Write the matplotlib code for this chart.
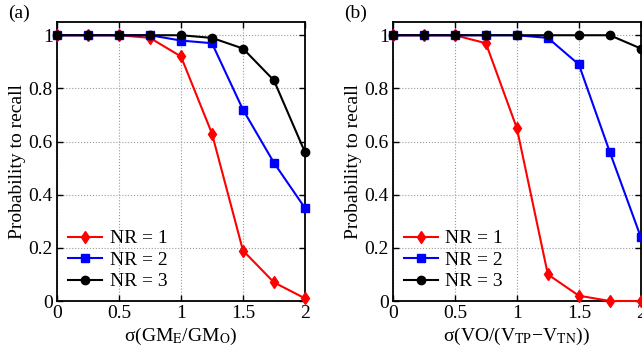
import numpy as np
import matplotlib.pyplot as plt

plt.rcParams['font.family'] = ['Liberation Serif', 'DejaVu Serif']
plt.rcParams['mathtext.fontset'] = 'stix'
plt.rcParams['font.size'] = 14

sigma = [0, 0.25, 0.5, 0.75, 1.0, 1.25, 1.5, 1.75, 2.0]

# panel (a): sigma(GM_E/GM_O)
a_nr1 = [1, 1, 1, 0.99, 0.92, 0.63, 0.19, 0.07, 0.01]
a_nr2 = [1, 1, 1, 1, 0.98, 0.97, 0.72, 0.52, 0.35]
a_nr3 = [1, 1, 1, 1, 1, 0.99, 0.95, 0.83, 0.56]

# panel (b): sigma(VO/(VTP-VTN))
b_nr1 = [1, 1, 1, 0.97, 0.65, 0.10, 0.02, 0, 0]
b_nr2 = [1, 1, 1, 1, 1, 0.99, 0.89, 0.56, 0.24]
b_nr3 = [1, 1, 1, 1, 1, 1, 1, 1, 0.95]

xticks = [0, 0.5, 1, 1.5, 2]
xticklabels = ['0', '0.5', '1', '1.5', '2']
yticks = [0, 0.2, 0.4, 0.6, 0.8, 1]
yticklabels = ['0', '0.2', '0.4', '0.6', '0.8', '1']

fig = plt.figure(figsize=(6.42, 3.54), dpi=100)
ax1 = fig.add_axes([0.0888, 0.1497, 0.3862, 0.7883])
ax2 = fig.add_axes([0.612, 0.1497, 0.3862, 0.7883])


def draw(ax, r, b, k, xlabel, tag):
    ax.plot(sigma, r, '-d', color='red', lw=1.5, ms=6, clip_on=False, label='NR = 1', zorder=3)
    ax.plot(sigma, b, '-s', color='blue', lw=1.5, ms=6, clip_on=False, label='NR = 2', zorder=4)
    ax.plot(sigma, k, '-o', color='black', lw=1.5, ms=6, clip_on=False, label='NR = 3', zorder=5)
    ax.set_xlim(0, 2)
    ax.set_ylim(0, 1.05)
    ax.set_xticks(xticks)
    ax.set_xticklabels(xticklabels)
    ax.set_yticks(yticks)
    ax.set_yticklabels(yticklabels)
    ax.grid(True, linestyle=':', color='#999999', lw=0.8)
    ax.tick_params(direction='in', top=True, right=True, length=4, width=1,
                   labelsize=14, pad=3)
    for s in ax.spines.values():
        s.set_linewidth(1.3)
    ax.set_xlabel(xlabel, fontsize=14, labelpad=3)
    ax.set_ylabel('Probability to recall', fontsize=14, labelpad=2)
    ax.legend(loc='lower left', frameon=False, fontsize=14, handlelength=1.75,
              borderaxespad=0.25, labelspacing=0.2, handletextpad=0.4,
              borderpad=0.3)
    ax.text(-0.198, 1.014, tag, transform=ax.transAxes, fontsize=14)


draw(ax1, a_nr1, a_nr2, a_nr3, r'σ(GM$_\mathrm{E}$/GM$_\mathrm{O}$)', '(a)')
draw(ax2, b_nr1, b_nr2, b_nr3, r'σ(VO/(V$_\mathrm{TP}$−V$_\mathrm{TN}$))', '(b)')

fig.savefig('out.png', dpi=100)
